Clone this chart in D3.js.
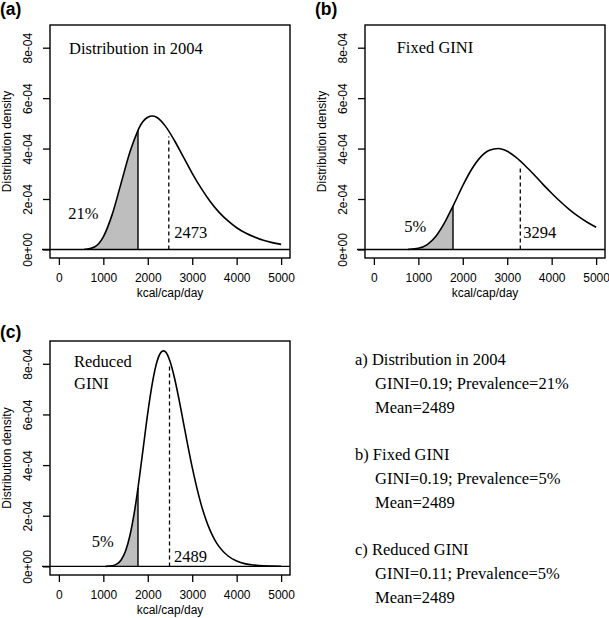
<!DOCTYPE html>
<html><head><meta charset="utf-8">
<script src="https://cdn.jsdelivr.net/npm/d3@7/dist/d3.min.js"></script>
<style>body{margin:0;background:#fff}</style>
</head><body>
<svg id="chart" width="609" height="618" xmlns="http://www.w3.org/2000/svg"></svg>
<script>
// ---------- data ----------
const panelIds = ["(a)", "(b)", "(c)"];
const panelTitles = [["Distribution in 2004"], ["Fixed GINI"], ["Reduced", "GINI"]];
const prevalenceLabels = ["21%", "5%", "5%"];
const meanLabels = ["2473", "3294", "2489"];
const meanValues = [2473, 3294, 2489];
const meanLineTops = [4.48e-4, 3.33e-4, 7.95e-4];
const cutoffValue = 1780;

const kcalA = [570, 600, 800, 1000, 1200, 1400, 1600, 1780, 1800, 2000, 2100, 2200, 2400, 2600, 2800, 3000, 3200, 3400, 3600, 3800, 4000, 4200, 4400, 4600, 4800, 5000];
const densA = [0.005e-4, 0.006e-4, 0.097e-4, 0.50e-4, 1.39e-4, 2.63e-4, 3.87e-4, 4.72e-4, 4.80e-4, 5.24e-4, 5.29e-4, 5.24e-4, 4.88e-4, 4.32e-4, 3.67e-4, 3.02e-4, 2.43e-4, 1.91e-4, 1.48e-4, 1.14e-4, 0.86e-4, 0.65e-4, 0.49e-4, 0.36e-4, 0.27e-4, 0.20e-4];

const kcalB = [770, 800, 1000, 1200, 1400, 1600, 1780, 1800, 2000, 2200, 2400, 2600, 2800, 3000, 3200, 3400, 3600, 3800, 4000, 4200, 4400, 4600, 4800, 5000];
const densB = [0.003e-4, 0.005e-4, 0.045e-4, 0.194e-4, 0.534e-4, 1.09e-4, 1.72e-4, 1.79e-4, 2.53e-4, 3.18e-4, 3.66e-4, 3.93e-4, 4.00e-4, 3.89e-4, 3.65e-4, 3.33e-4, 2.97e-4, 2.59e-4, 2.23e-4, 1.89e-4, 1.58e-4, 1.31e-4, 1.08e-4, 0.88e-4];

const kcalC = [1050, 1200, 1300, 1400, 1500, 1600, 1700, 1780, 1800, 1900, 2000, 2100, 2200, 2300, 2350, 2400, 2500, 2600, 2700, 2800, 2900, 3000, 3100, 3200, 3300, 3400, 3500, 3600, 3800, 4000, 4200, 4400, 4600, 4800, 5000];
const densC = [0.002e-4, 0.023e-4, 0.087e-4, 0.255e-4, 0.61e-4, 1.23e-4, 2.16e-4, 3.10e-4, 3.36e-4, 4.71e-4, 6.06e-4, 7.21e-4, 8.04e-4, 8.46e-4, 8.51e-4, 8.47e-4, 8.10e-4, 7.45e-4, 6.62e-4, 5.70e-4, 4.78e-4, 3.91e-4, 3.13e-4, 2.45e-4, 1.89e-4, 1.43e-4, 1.07e-4, 0.79e-4, 0.42e-4, 0.21e-4, 0.10e-4, 0.05e-4, 0.02e-4, 0.01e-4, 0.005e-4];

const xTicks = [0, 1000, 2000, 3000, 4000, 5000];
const yTicks = [0, 2e-4, 4e-4, 6e-4, 8e-4];
const yTickLabels = ["0e+00", "2e-04", "4e-04", "6e-04", "8e-04"];
const xAxisTitle = "kcal/cap/day";
const yAxisTitle = "Distribution density";

const legendHeads = ["a) Distribution in 2004", "b) Fixed GINI", "c) Reduced GINI"];
const legendGini = ["GINI=0.19; Prevalence=21%", "GINI=0.19; Prevalence=5%", "GINI=0.11; Prevalence=5%"];
const legendMean = ["Mean=2489", "Mean=2489", "Mean=2489"];

const seriesKcal = [kcalA, kcalB, kcalC];
const seriesDens = [densA, densB, densC];

// ---------- layout ----------
const SANS = "'Liberation Sans', Arial, Helvetica, sans-serif";
const SERIF = "'Liberation Serif', 'Times New Roman', serif";
const boxes = [
  {x0: 50, y0: 25, x1: 290, y1: 258, labelX: 0, labelY: 15},
  {x0: 365, y0: 25, x1: 605, y1: 258, labelX: 315, labelY: 15},
  {x0: 50, y0: 341, x1: 290, y1: 575, labelX: 0, labelY: 338}
];
const textPos = [
  {title: [[19, 28.5]], prev: [18.3, 194], mean: [124.3, 212.7]},
  {title: [[31.7, 28.3]], prev: [39.3, 206.7], mean: [158.3, 213.3]},
  {title: [[24, 25.7], [24, 48.3]], prev: [41.7, 205.7], mean: [124, 220.7]}
];

const svg = d3.select("#chart");
svg.append("rect").attr("width", 609).attr("height", 618).attr("fill", "#fff");

boxes.forEach((b, i) => {
  const g = svg.append("g");
  const x = d3.scaleLinear().domain([-200, 5200]).range([b.x0, b.x1]);
  const y = d3.scaleLinear().domain([-0.34e-4, 8.9e-4]).range([b.y1, b.y0]);
  const pts = seriesKcal[i].map((k, j) => [k, seriesDens[i][j]]);
  const line = d3.line().x(d => x(d[0])).y(d => y(d[1])).curve(d3.curveMonotoneX);
  const area = d3.area().x(d => x(d[0])).y0(y(0)).y1(d => y(d[1])).curve(d3.curveMonotoneX);

  // shaded prevalence area
  const shaded = pts.filter(d => d[0] <= cutoffValue);
  g.append("path").attr("d", area(shaded)).attr("fill", "#bebebe").attr("stroke", "none");

  // zero line
  g.append("line").attr("x1", b.x0 - 8).attr("x2", b.x1).attr("y1", y(0)).attr("y2", y(0))
    .attr("stroke", "#000").attr("stroke-width", 1.4);

  // cutoff line
  const cutD = shaded[shaded.length - 1];
  g.append("line").attr("x1", x(cutD[0])).attr("x2", x(cutD[0])).attr("y1", y(0)).attr("y2", y(cutD[1]))
    .attr("stroke", "#000").attr("stroke-width", 1.4);

  // mean dashed line
  g.append("line").attr("x1", x(meanValues[i])).attr("x2", x(meanValues[i]))
    .attr("y1", y(0)).attr("y2", y(meanLineTops[i]))
    .attr("stroke", "#000").attr("stroke-width", 1.3).attr("stroke-dasharray", "4,3");

  // curve
  g.append("path").attr("d", line(pts)).attr("fill", "none").attr("stroke", "#000").attr("stroke-width", 1.6);

  // box
  g.append("rect").attr("x", b.x0).attr("y", b.y0).attr("width", b.x1 - b.x0).attr("height", b.y1 - b.y0)
    .attr("fill", "none").attr("stroke", "#000").attr("stroke-width", 1.4);

  // x axis
  const xa = g.append("g").attr("transform", `translate(0,${b.y1})`)
    .call(d3.axisBottom(x).tickValues(xTicks).tickFormat(d3.format("d")).tickSize(7).tickSizeOuter(0).tickPadding(8));
  xa.select(".domain").remove();
  xa.selectAll("line").attr("stroke", "#000").attr("stroke-width", 1.3);
  xa.selectAll("text").attr("font-family", SANS).attr("font-size", 12).attr("fill", "#000");

  // y axis
  const ya = g.append("g").attr("transform", `translate(${b.x0},0)`)
    .call(d3.axisLeft(y).tickValues(yTicks).tickFormat((d, j) => yTickLabels[j]).tickSize(7).tickSizeOuter(0));
  ya.select(".domain").remove();
  ya.selectAll("line").attr("stroke", "#000").attr("stroke-width", 1.3);
  ya.selectAll("text").attr("font-family", SANS).attr("font-size", 12).attr("fill", "#000")
    .attr("transform", "rotate(-90)").attr("text-anchor", "middle")
    .attr("x", 0).attr("y", -18.5).attr("dy", null);

  // axis titles
  g.append("text").attr("x", (b.x0 + b.x1) / 2).attr("y", b.y1 + 38.5).attr("text-anchor", "middle")
    .attr("font-family", SANS).attr("font-size", 12).text(xAxisTitle);
  g.append("text").attr("transform", `translate(${b.x0 - 39.5},${(b.y0 + b.y1) / 2}) rotate(-90)`)
    .attr("text-anchor", "middle").attr("font-family", SANS).attr("font-size", 12).text(yAxisTitle);

  // panel label
  svg.append("text").attr("x", b.labelX).attr("y", b.labelY).attr("font-family", SANS)
    .attr("font-weight", "bold").attr("font-size", 17.5).text(panelIds[i]);

  // annotations
  const tp = textPos[i];
  panelTitles[i].forEach((t, k) => {
    g.append("text").attr("x", b.x0 + tp.title[k][0]).attr("y", b.y0 + tp.title[k][1])
      .attr("font-family", SERIF).attr("font-size", 16.5).text(t);
  });
  g.append("text").attr("x", b.x0 + tp.prev[0]).attr("y", b.y0 + tp.prev[1])
    .attr("font-family", SERIF).attr("font-size", 16.5).text(prevalenceLabels[i]);
  g.append("text").attr("x", b.x0 + tp.mean[0]).attr("y", b.y0 + tp.mean[1])
    .attr("font-family", SERIF).attr("font-size", 16.5).text(meanLabels[i]);
});

// legend text block
const legendBaselines = [365, 460, 555];
legendHeads.forEach((h, i) => {
  const y0 = legendBaselines[i];
  svg.append("text").attr("x", 355).attr("y", y0).attr("font-family", SERIF).attr("font-size", 16.5).text(h);
  svg.append("text").attr("x", 375).attr("y", y0 + 24).attr("font-family", SERIF).attr("font-size", 16.5).text(legendGini[i]);
  svg.append("text").attr("x", 375).attr("y", y0 + 48).attr("font-family", SERIF).attr("font-size", 16.5).text(legendMean[i]);
});
</script>
</body></html>
